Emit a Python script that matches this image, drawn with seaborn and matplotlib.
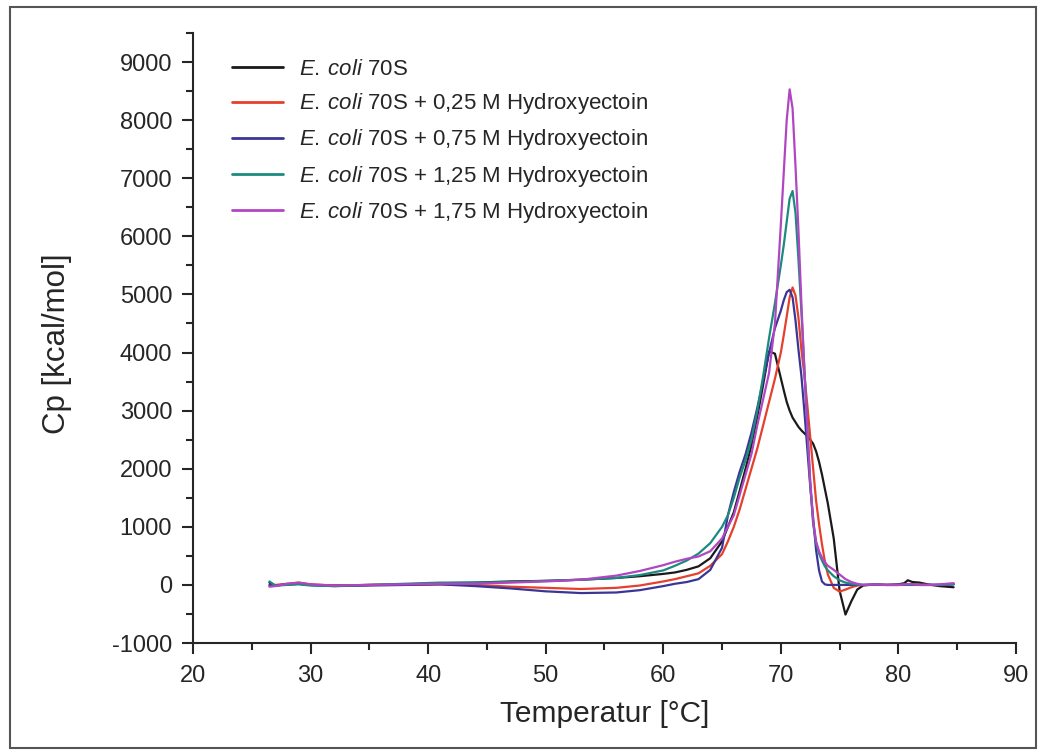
import pandas as pd
import seaborn as sns
import matplotlib.pyplot as plt
from matplotlib.patches import Rectangle
from matplotlib.ticker import MultipleLocator

# --- DATA ---
temperature = [26.5, 27, 28, 29, 30, 32, 35, 38, 41, 44, 47, 50, 53, 56, 58, 60, 61, 62, 63, 64,
               65, 65.5, 66, 66.5, 67, 67.5, 68, 68.5, 69, 69.5, 70, 70.25, 70.5, 70.75, 71,
               71.25, 71.5, 71.75, 72, 72.25, 72.5, 72.75, 73, 73.25, 73.5, 73.75, 74, 74.5,
               75, 75.5, 76, 76.5, 77, 78, 79, 80, 80.5, 80.8, 81.2, 81.8, 82.5, 83.5, 84.7]

cp_70s = [40, -10, 10, 20, 0, -10, 0, 10, 30, 40, 60, 70, 90, 120, 150, 190, 215, 260, 320, 460,
          750, 1000, 1250, 1620, 2000, 2400, 2900, 3450, 4020, 3980, 3560, 3350, 3150, 3000, 2880,
          2800, 2720, 2660, 2610, 2560, 2500, 2430, 2300, 2120, 1900, 1650, 1400, 800,
          -100, -510, -280, -80, -10, 10, 0, 10, 30, 80, 50, 40, 10, -20, -40]

cp_025 = [-20, 0, 20, 40, 10, -10, 0, 0, 10, 0, -30, -50, -70, -50, -10, 60, 100, 150, 200, 330,
          530, 750, 1000, 1300, 1650, 2000, 2350, 2750, 3150, 3550, 4000, 4300, 4620, 4950, 5120,
          4980, 4600, 4050, 3620, 3100, 2550, 2000, 1450, 1050, 700, 400, 180, -50,
          -115, -80, -40, -10, 0, 5, 0, 0, 5, 10, 10, 5, 0, 0, 20]

cp_075 = [0, -10, 10, 20, 0, -20, -10, 0, 10, -20, -60, -110, -140, -130, -90, -20, 20, 50, 100, 260,
          640, 1200, 1600, 1950, 2250, 2620, 3050, 3520, 4000, 4420, 4720, 4900, 5040, 5080, 4950,
          4550, 4050, 3600, 3000, 2350, 1700, 1150, 600, 250, 60, 10, 0, 0,
          0, 0, 0, 0, 0, 0, 0, 0, 0, 0, 0, 0, 0, 0, 10]

cp_125 = [60, -10, 0, 10, -10, -20, 0, 20, 40, 40, 50, 70, 90, 120, 170, 250, 330, 420, 540, 720,
          1000, 1200, 1500, 1850, 2150, 2500, 3000, 3600, 4250, 4850, 5500, 5850, 6250, 6650, 6780,
          6400, 5600, 4700, 3750, 2750, 1750, 1050, 720, 540, 420, 320, 250, 150,
          80, 40, 20, 5, 0, 5, 0, 0, 5, 5, 10, 0, 0, 0, 10]

cp_175 = [-30, -20, 20, 40, 10, -10, 0, 10, 20, 20, 40, 60, 90, 160, 240, 340, 400, 450, 490, 580,
          800, 1000, 1200, 1550, 1900, 2250, 2750, 3200, 3650, 4500, 6200, 7100, 8000, 8530, 8200,
          7200, 6100, 4850, 3700, 2700, 1800, 1100, 750, 580, 470, 390, 330, 260,
          180, 100, 50, 20, 0, 10, 0, 0, 10, 15, 10, 0, 0, 10, 30]

ecoli = r'$\mathit{E.\:coli}$ 70S'
labels = [ecoli,
          ecoli + ' + 0,25 M Hydroxyectoin',
          ecoli + ' + 0,75 M Hydroxyectoin',
          ecoli + ' + 1,25 M Hydroxyectoin',
          ecoli + ' + 1,75 M Hydroxyectoin']
colors = ['#1a1a1a', '#e5402c', '#3b3596', '#1d8a80', '#b146c2']

# long-form table for seaborn
frames = []
for lab, cp in zip(labels, [cp_70s, cp_025, cp_075, cp_125, cp_175]):
    frames.append(pd.DataFrame({'T': temperature, 'Cp': cp, 'Probe': lab}))
df = pd.concat(frames, ignore_index=True)

# --- STYLE ---
sns.set_style("ticks")
plt.rcParams['font.family'] = ['Liberation Sans', 'DejaVu Sans']
plt.rcParams['mathtext.fontset'] = 'custom'
plt.rcParams['mathtext.rm'] = 'Liberation Sans'
plt.rcParams['mathtext.it'] = 'Liberation Sans:italic'
plt.rcParams['axes.unicode_minus'] = False

fig = plt.figure(figsize=(10.45, 7.55), dpi=100)
ax = fig.add_axes([0.1847, 0.1483, 0.7875, 0.808])

sns.lineplot(data=df, x='T', y='Cp', hue='Probe', hue_order=labels,
             palette=dict(zip(labels, colors)), estimator=None, linewidth=1.6, ax=ax)

ax.set_xlim(20, 90)
ax.set_ylim(-1000, 9500)
ax.xaxis.set_major_locator(MultipleLocator(10))
ax.xaxis.set_minor_locator(MultipleLocator(5))
ax.set_yticks(range(-1000, 10000, 1000))
ax.yaxis.set_minor_locator(MultipleLocator(500))

for side in ['top', 'right']:
    ax.spines[side].set_visible(False)
for side in ['left', 'bottom']:
    ax.spines[side].set_linewidth(1.5)
ax.tick_params(which='major', length=8, width=1.5, labelsize=17, direction='out')
ax.tick_params(axis='y', which='major', pad=7)
ax.tick_params(axis='x', which='major', pad=7.5)
ax.tick_params(which='minor', length=5, width=1.5, direction='out')

ax.set_xlabel('Temperatur [°C]', fontsize=21.5, labelpad=10)
ax.set_ylabel('Cp [kcal/mol]', fontsize=22.5)
ax.yaxis.set_label_coords(-0.147, 0.49)

handles, _ = ax.get_legend_handles_labels()
leg = ax.legend(handles, labels, loc='upper left', bbox_to_anchor=(0.047, 0.957),
                frameon=False, fontsize=16, handlelength=2.3, handletextpad=0.75,
                labelspacing=0.5, borderpad=0, borderaxespad=0)
for line in leg.get_lines():
    line.set_linewidth(2)

# grey frame around the whole picture
fig.patches.append(Rectangle((10 / 1045, 7 / 755), 1026 / 1045, 741 / 755,
                             transform=fig.transFigure, fill=False,
                             edgecolor='#555555', linewidth=1.5))

plt.savefig('out.png', dpi=100)
